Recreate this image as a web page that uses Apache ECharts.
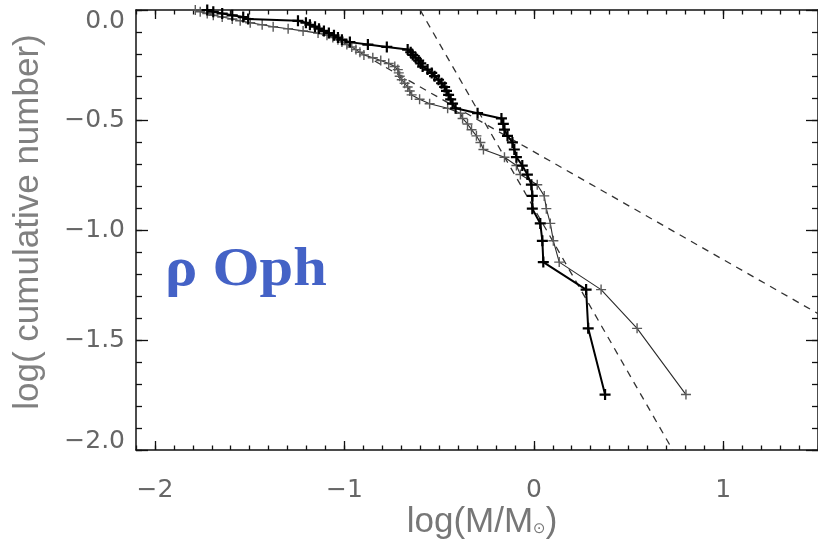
<!DOCTYPE html>
<html><head><meta charset="utf-8">
<script src="https://cdn.jsdelivr.net/npm/echarts@6/dist/echarts.min.js"></script>
<style>html,body{margin:0;padding:0;background:#fff}#c{width:818px;height:546px}</style>
</head><body><div id="c"></div>
<script>
// log(cumulative number), shared by both mass estimates (56 sources, highest cumulative first)
const cumY = [0.000,-0.008,-0.016,-0.024,-0.032,-0.041,-0.049,-0.058,-0.067,-0.076,
  -0.085,-0.095,-0.105,-0.115,-0.125,-0.135,-0.146,-0.157,-0.168,-0.180,
  -0.192,-0.204,-0.217,-0.230,-0.243,-0.257,-0.271,-0.286,-0.301,-0.317,
  -0.333,-0.350,-0.368,-0.386,-0.406,-0.426,-0.447,-0.469,-0.493,-0.518,
  -0.544,-0.572,-0.602,-0.634,-0.669,-0.707,-0.748,-0.794,-0.845,-0.903,
  -0.970,-1.049,-1.146,-1.271,-1.447,-1.748];
// log(M/Msun), thick curve
const massThick = [-1.724,-1.692,-1.645,-1.592,-1.534,-1.508,-1.245,-1.203,-1.182,-1.155,
  -1.134,-1.108,-1.082,-1.055,-1.034,-1.013,-0.971,-0.876,-0.776,-0.666,
  -0.650,-0.639,-0.624,-0.608,-0.597,-0.587,-0.561,-0.539,-0.524,-0.503,
  -0.487,-0.471,-0.461,-0.450,-0.439,-0.429,-0.413,-0.297,-0.171,-0.161,
  -0.155,-0.139,-0.113,-0.103,-0.092,-0.061,-0.034,-0.013,-0.008,-0.008,
  0.034,0.045,0.050,0.276,0.287,0.376];
// log(M/Msun), thin curve
const massThin = [-1.787,-1.761,-1.724,-1.692,-1.645,-1.592,-1.550,-1.497,-1.434,-1.376,
  -1.297,-1.218,-1.139,-1.092,-1.061,-1.034,-1.013,-0.987,-0.961,-0.939,
  -0.918,-0.897,-0.850,-0.808,-0.766,-0.734,-0.718,-0.713,-0.708,-0.697,
  -0.682,-0.666,-0.655,-0.645,-0.603,-0.550,-0.455,-0.387,-0.376,-0.350,
  -0.329,-0.303,-0.282,-0.266,-0.155,-0.092,-0.071,0.018,0.055,0.066,
  0.087,0.103,0.134,0.355,0.545,0.803];
// dashed power-law fits
const fitSteepX = [-0.60, 0.733];
const fitSteepY = [0.0, -2.0];
const fitShallowX = [-0.84, 1.5];
const fitShallowY = [-0.232, -1.38];
// axes
const xMajorTicks = [-2, -1, 0, 1];
const xTickLabels = ['\u22122', '\u22121', '0', '1'];
const xMinorTicks = [-2.1,-2.0,-1.9,-1.8,-1.7,-1.6,-1.5,-1.4,-1.3,-1.2,-1.1,-1.0,-0.9,-0.8,-0.7,-0.6,-0.5,-0.4,-0.3,-0.2,-0.1,
  0.0,0.1,0.2,0.3,0.4,0.5,0.6,0.7,0.8,0.9,1.0,1.1,1.2,1.3,1.4,1.5];
const yMajorTicks = [-2.0, -1.5, -1.0, -0.5, 0.0];
const yTickLabels = ['\u22122.0', '\u22121.5', '\u22121.0', '\u22120.5', '0.0'];
// label anchor values (end labels sit just inside the frame, as in the original)
const yLabelAnchors = [-1.96, -1.5, -1.0, -0.5, -0.05];
const yMinorTicks = [-2.0,-1.9,-1.8,-1.7,-1.6,-1.5,-1.4,-1.3,-1.2,-1.1,-1.0,-0.9,-0.8,-0.7,-0.6,-0.5,-0.4,-0.3,-0.2,-0.1,0.0];
const xTitle = 'log(M/M';
const xTitleSym = '\u2299';
const yTitle = 'log( cumulative number)';
const regionLabel = '\u03c1 Oph';

const zip = (xs, ys) => xs.map((x, i) => [x, ys[i]]);
const lbl = (ticks, labels) => v => { const i = ticks.findIndex(t => Math.abs(t - v) < 1e-6); return i >= 0 ? labels[i] : ''; };
const PLUS = 'path://M4,0L6,0L6,4L10,4L10,6L6,6L6,10L4,10L4,6L0,6L0,4L4,4Z';
const PLUS_THIN = 'path://M4.3,0L5.7,0L5.7,4.3L10,4.3L10,5.7L5.7,5.7L5.7,10L4.3,10L4.3,5.7L0,5.7L0,4.3L4.3,4.3Z';
const XMIN = -2.1, XMAX = 1.5, YMIN = -2, YMAX = 0;
const axisCol = '#111';
const labelFont = { fontFamily: 'DejaVu Sans', fontSize: 25, color: '#666' };

function xAx(grid, pos, ticks, len, withLabel, withLine) {
  return { type: 'value', gridIndex: grid, position: pos, min: XMIN, max: XMAX,
    axisLine: { show: withLine, onZero: false, lineStyle: { color: axisCol, width: 1.5 } },
    axisTick: { show: true, inside: true, length: len, customValues: ticks, lineStyle: { color: axisCol, width: 1.3 } },
    axisLabel: withLabel ? Object.assign({ show: true, customValues: xMajorTicks, formatter: lbl(xMajorTicks, xTickLabels), margin: 28 }, labelFont) : { show: false },
    splitLine: { show: false } };
}
function yAx(grid, pos, ticks, len, withLabel, withLine) {
  return { type: 'value', gridIndex: grid, position: pos, min: YMIN, max: YMAX,
    axisLine: { show: withLine, onZero: false, lineStyle: { color: axisCol, width: 1.5 } },
    axisTick: { show: true, inside: true, length: len, customValues: ticks, lineStyle: { color: axisCol, width: 1.3 } },
    axisLabel: withLabel ? Object.assign({ show: true, customValues: yLabelAnchors, formatter: lbl(yLabelAnchors, yTickLabels), margin: 11 }, labelFont) : { show: false },
    splitLine: { show: false } };
}

const chart = echarts.init(document.getElementById('c'), null, { renderer: 'canvas' });
const gridBox = { left: 136, top: 10, width: 684, height: 440 };
chart.setOption({
  animation: false,
  backgroundColor: '#fff',
  grid: [Object.assign({}, gridBox), Object.assign({}, gridBox)],
  xAxis: [
    xAx(0, 'bottom', xMajorTicks, 9, true, true),
    xAx(0, 'top', xMajorTicks, 9, false, true),
    xAx(1, 'bottom', xMinorTicks, 4.5, false, false),
    xAx(1, 'top', xMinorTicks, 4.5, false, false)
  ],
  yAxis: [
    yAx(0, 'left', yMajorTicks, 12, true, true),
    yAx(0, 'right', yMajorTicks, 12, false, true),
    yAx(1, 'left', yMinorTicks, 6, false, false),
    yAx(1, 'right', yMinorTicks, 6, false, false)
  ],
  series: [
    { type: 'line', xAxisIndex: 0, yAxisIndex: 0, data: zip(fitSteepX, fitSteepY), showSymbol: false, symbol: 'none',
      lineStyle: { color: '#333', width: 1.3, type: [7, 6] }, clip: true, z: 2 },
    { type: 'line', xAxisIndex: 0, yAxisIndex: 0, data: zip(fitShallowX, fitShallowY), showSymbol: false, symbol: 'none',
      lineStyle: { color: '#333', width: 1.3, type: [7, 6] }, clip: true, z: 2 },
    { type: 'line', xAxisIndex: 0, yAxisIndex: 0, data: zip(massThin, cumY), symbol: PLUS_THIN, symbolSize: 10, showAllSymbol: true,
      lineStyle: { color: '#2a2a2a', width: 1.1 }, itemStyle: { color: '#5a5a5a' }, clip: false, z: 3 },
    { type: 'line', xAxisIndex: 0, yAxisIndex: 0, data: zip(massThick, cumY), symbol: PLUS, symbolSize: 11, showAllSymbol: true,
      lineStyle: { color: '#000', width: 2 }, itemStyle: { color: '#000' }, clip: false, z: 4 }
  ],
  graphic: [
    { type: 'text', x: 28, y: 222, rotation: Math.PI / 2,
      style: { text: yTitle, font: '35px "Liberation Sans"', fill: '#808080', align: 'center', verticalAlign: 'middle' } },
    { type: 'text', x: 482, y: 522,
      style: { text: '{a|' + xTitle + '}{s|' + xTitleSym + '}{a|)}', align: 'center', verticalAlign: 'middle',
        rich: { a: { fontFamily: 'Liberation Sans', fontSize: 35, fill: '#777', color: '#777' },
                s: { fontFamily: 'DejaVu Sans', fontSize: 15, fill: '#777', color: '#777', padding: [14, 0, 0, 0] } } } },
    { type: 'text', x: 165, y: 271, scaleX: 1.1,
      style: { text: regionLabel, font: 'bold 55px "Liberation Serif"', fill: '#4462C6', align: 'left', verticalAlign: 'middle' } }
  ]
});
</script></body></html>
